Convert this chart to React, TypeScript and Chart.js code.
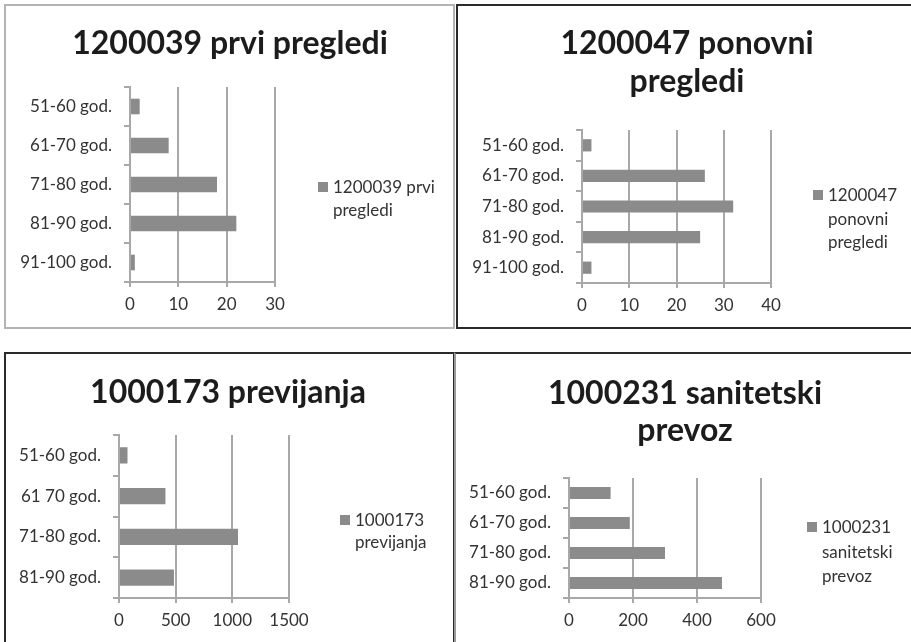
import React, { useEffect, useRef } from "react";
import { Chart, registerables } from "chart.js";

Chart.register(...registerables);

// ---------- data ----------
const ageGroupsA = ["51-60 god.", "61-70 god.", "71-80 god.", "81-90 god.", "91-100 god."];
const ageGroupsB = ["51-60 god.", "61 70 god.", "71-80 god.", "81-90 god."];
const ageGroupsC = ["51-60 god.", "61-70 god.", "71-80 god.", "81-90 god."];

const prviPregledi = [2, 8, 18, 22, 1];
const ponovniPregledi = [2, 26, 32, 25, 2];
const previjanja = [75, 410, 1050, 485];
const sanitetskiPrevoz = [130, 190, 300, 478];

const axisMax = [30, 40, 1500, 600];
const axisStep = [10, 10, 500, 200];

const titleLines = [
  ["1200039 prvi pregledi"],
  ["1200047 ponovni", "pregledi"],
  ["1000173 previjanja"],
  ["1000231 sanitetski", "prevoz"],
];
const legendLines = [
  ["1200039 prvi", "pregledi"],
  ["1200047", "ponovni", "pregledi"],
  ["1000173", "previjanja"],
  ["1000231", "sanitetski", "prevoz"],
];

// ---------- layout / style ----------
const BAR = "#8b8b8b";
const GRID = "#a8a8a8";
const TEXT = "#333333";
const FONT = "Lato, 'Open Sans', sans-serif";

type Panel = {
  left: number; top: number; width: number; height: number;
  border: string; borderTop?: string;
  plot: { l: number; r: number; t: number; b: number };
  titleX: number; titleY: number; titleGap: number;
  legX: number; legY: number; legGap: number;
};

const panels: Panel[] = [
  { left: 4, top: 4, width: 451, height: 325, border: "#b4b4b4",
    plot: { l: 126, r: 271, t: 83, b: 278 },
    titleX: 226, titleY: 50, titleGap: 38, legX: 329, legY: 189, legGap: 23 },
  { left: 456, top: 4, width: 470, height: 325, border: "#2a2a2a",
    plot: { l: 126, r: 315, t: 126, b: 279 },
    titleX: 231, titleY: 50, titleGap: 38, legX: 372, legY: 197, legGap: 23.5 },
  { left: 4, top: 352, width: 451, height: 310, border: "#2a2a2a",
    plot: { l: 115, r: 285, t: 83, b: 246 },
    titleX: 224, titleY: 51, titleGap: 38, legX: 351, legY: 174, legGap: 22 },
  { left: 454, top: 352, width: 470, height: 310, border: "#9a9a9a", borderTop: "#2a2a2a",
    plot: { l: 115, r: 307, t: 126, b: 246 },
    titleX: 231, titleY: 52, titleGap: 37, legX: 368, legY: 181, legGap: 24.5 },
];

const datasets = [
  { labels: ageGroupsA, values: prviPregledi },
  { labels: ageGroupsA, values: ponovniPregledi },
  { labels: ageGroupsB, values: previjanja },
  { labels: ageGroupsC, values: sanitetskiPrevoz },
];

function PanelChart({ idx }: { idx: number }) {
  const ref = useRef<HTMLCanvasElement | null>(null);
  const p = panels[idx];

  useEffect(() => {
    if (!ref.current) return;
    const d = datasets[idx];
    const decor = {
      id: "decor" + idx,
      afterDraw(chart: any) {
        const ctx = chart.ctx as CanvasRenderingContext2D;
        ctx.save();
        ctx.fillStyle = "#1c1c1c";
        ctx.font = `bold 32px ${FONT}`;
        ctx.textAlign = "center";
        ctx.textBaseline = "alphabetic";
        titleLines[idx].forEach((t, i) => ctx.fillText(t, p.titleX, p.titleY + i * p.titleGap));
        ctx.fillStyle = BAR;
        ctx.fillRect(p.legX - 15, p.legY - 11, 10, 10);
        ctx.fillStyle = TEXT;
        ctx.font = `17px ${FONT}`;
        ctx.textAlign = "left";
        legendLines[idx].forEach((t, i) => ctx.fillText(t, p.legX, p.legY + i * p.legGap));
        ctx.restore();
      },
    };
    const chart = new Chart(ref.current, {
      type: "bar",
      data: {
        labels: d.labels,
        datasets: [
          {
            label: legendLines[idx].join(" "),
            data: d.values,
            backgroundColor: BAR,
            borderWidth: 0,
            categoryPercentage: 1,
            barPercentage: 0.4,
          },
        ],
      },
      options: {
        indexAxis: "y",
        responsive: false,
        animation: false,
        devicePixelRatio: 1,
        layout: {
          padding: { left: 0, top: p.plot.t, right: p.width - p.plot.r, bottom: 0 },
        },
        plugins: { legend: { display: false }, title: { display: false }, tooltip: { enabled: false } },
        scales: {
          x: {
            min: 0,
            max: axisMax[idx],
            ticks: {
              stepSize: axisStep[idx],
              color: TEXT,
              font: { family: FONT, size: 17 },
              padding: 7,
              callback: (v: any) => String(v),
            },
            grid: { color: GRID, lineWidth: 2, tickLength: 5, drawTicks: true },
            border: { display: true, color: GRID, width: 2 },
            afterFit: (s: any) => { s.height = p.height - p.plot.b; },
          },
          y: {
            offset: true,
            ticks: { color: TEXT, font: { family: FONT, size: 17 }, padding: 12 },
            grid: { offset: true, drawOnChartArea: false, color: GRID, lineWidth: 2, tickLength: 6 },
            border: { display: true, color: GRID, width: 2 },
            afterFit: (s: any) => { s.width = p.plot.l; },
          },
        },
      },
      plugins: [decor],
    });
    return () => chart.destroy();
  }, [idx]);

  return (
    <div style={{ position: "absolute", left: p.left, top: p.top, width: p.width, height: p.height }}>
      <canvas ref={ref} width={p.width} height={p.height} style={{ position: "absolute", left: 0, top: 0 }} />
      <div
        style={{
          position: "absolute", left: 0, top: 0, width: p.width, height: p.height,
          boxSizing: "border-box", border: `2px solid ${p.border}`,
          borderTopColor: p.borderTop || p.border, pointerEvents: "none",
        }}
      />
    </div>
  );
}

export default function App() {
  return (
    <div style={{ position: "fixed", left: 0, top: 0, width: 911, height: 642, overflow: "hidden", background: "#fff" }}>
      {panels.map((_, i) => (
        <PanelChart key={i} idx={i} />
      ))}
    </div>
  );
}
